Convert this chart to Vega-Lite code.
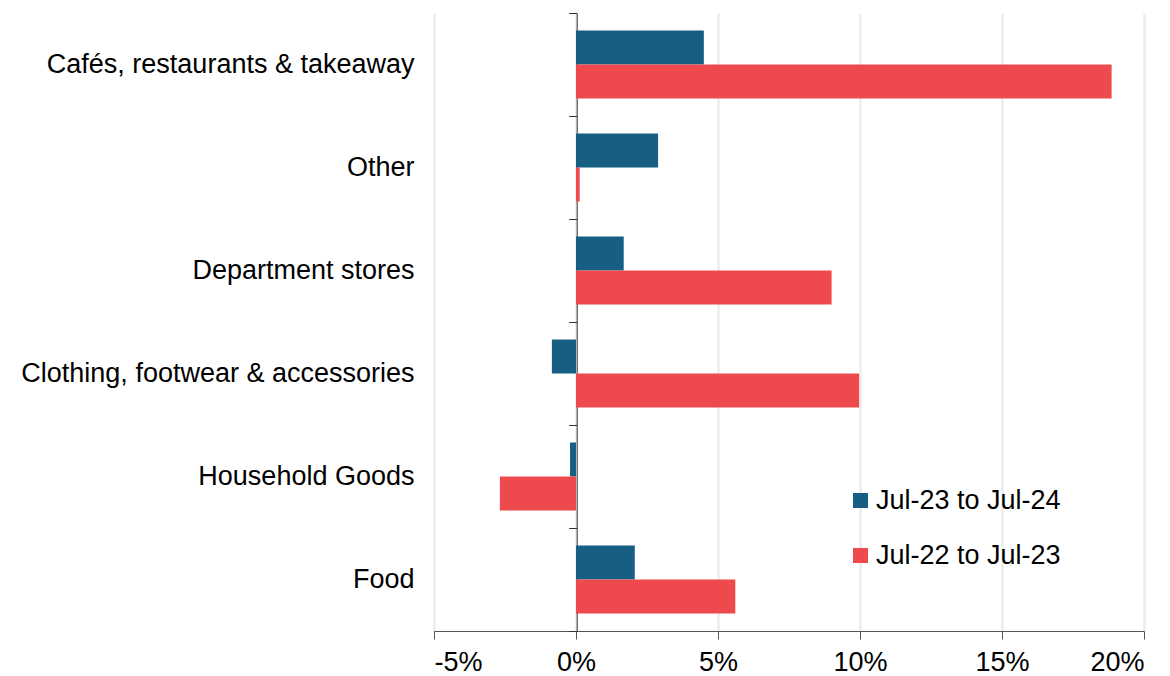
{
  "$schema": "https://vega.github.io/schema/vega-lite/v6.json",
  "width": 710,
  "height": 618,
  "padding": {"left": 20, "top": 12, "right": 2, "bottom": 0},
  "background": "white",
  "config": {"view": {"stroke": null}, "font": "Liberation Sans"},
  "data": {
    "values": [
      {"category": "Cafés, restaurants & takeaway", "period": "Jul-23 to Jul-24", "value": 4.5},
      {"category": "Cafés, restaurants & takeaway", "period": "Jul-22 to Jul-23", "value": 18.86},
      {"category": "Other", "period": "Jul-23 to Jul-24", "value": 2.89},
      {"category": "Other", "period": "Jul-22 to Jul-23", "value": 0.13},
      {"category": "Department stores", "period": "Jul-23 to Jul-24", "value": 1.68},
      {"category": "Department stores", "period": "Jul-22 to Jul-23", "value": 9.0},
      {"category": "Clothing, footwear & accessories", "period": "Jul-23 to Jul-24", "value": -0.85},
      {"category": "Clothing, footwear & accessories", "period": "Jul-22 to Jul-23", "value": 9.97},
      {"category": "Household Goods", "period": "Jul-23 to Jul-24", "value": -0.21},
      {"category": "Household Goods", "period": "Jul-22 to Jul-23", "value": -2.68},
      {"category": "Food", "period": "Jul-23 to Jul-24", "value": 2.07},
      {"category": "Food", "period": "Jul-22 to Jul-23", "value": 5.61}
    ]
  },
  "layer": [
    {
      "mark": {"type": "bar"},
      "encoding": {
        "y": {
          "field": "category", "type": "nominal",
          "sort": ["Cafés, restaurants & takeaway", "Other", "Department stores", "Clothing, footwear & accessories", "Household Goods", "Food"],
          "scale": {"paddingInner": 0, "paddingOuter": 0},
          "axis": {"title": null, "ticks": false, "domain": false, "labelFontSize": 27, "labelColor": "#000", "labelPadding": 20, "labelLimit": 700, "orient": "left"}
        },
        "yOffset": {
          "field": "period", "type": "nominal",
          "sort": ["Jul-23 to Jul-24", "Jul-22 to Jul-23"],
          "scale": {"paddingInner": 0, "paddingOuter": 0.515}
        },
        "x": {
          "field": "value", "type": "quantitative",
          "scale": {"domain": [-5, 20], "nice": false, "zero": false},
          "axis": {"values": [-5, 0, 5, 10, 15, 20], "labelExpr": "datum.value + '%'", "title": null, "grid": true, "gridColor": "#ececec", "gridWidth": 2.5, "domainColor": "#555", "tickColor": "#555", "tickSize": 8, "labelFontSize": 27, "labelColor": "#000", "labelPadding": 10}
        },
        "color": {
          "field": "period", "type": "nominal",
          "scale": {"domain": ["Jul-23 to Jul-24", "Jul-22 to Jul-23"], "range": ["#175e83", "#ee4a4d"]},
          "legend": {"orient": "none", "legendX": 413, "legendY": 474, "title": null, "symbolType": "square", "symbolSize": 225, "symbolStrokeWidth": 0, "labelFontSize": 27, "labelColor": "#000", "labelLimit": 400, "rowPadding": 27, "labelOffset": 2}
        }
      }
    },
    {
      "mark": {"type": "point", "opacity": 0},
      "encoding": {
        "y": {
          "field": "category", "type": "nominal",
          "sort": ["Cafés, restaurants & takeaway", "Other", "Department stores", "Clothing, footwear & accessories", "Household Goods", "Food"],
          "axis": {"orient": "left", "offset": -142.7, "labels": false, "ticks": true, "tickBand": "extent", "tickSize": 8, "domain": true, "domainColor": "#333", "tickColor": "#333", "title": null, "grid": false}
        },
        "x": {"datum": 0}
      }
    }
  ],
  "resolve": {"axis": {"y": "independent"}}
}
